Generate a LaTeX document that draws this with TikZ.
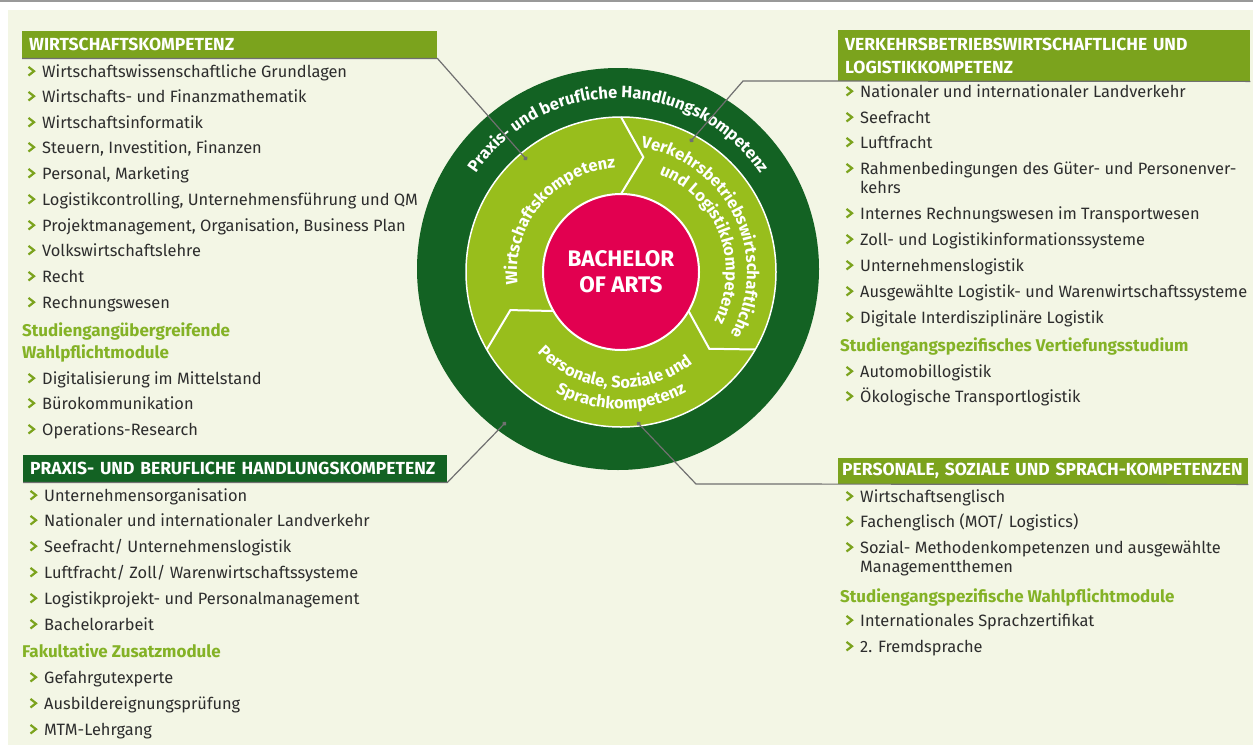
\documentclass[tikz,border=0pt]{standalone}
\usepackage{fontspec}
\setmainfont{Fira Sans}
\usetikzlibrary{positioning}
\usetikzlibrary{arrows.meta}
\usetikzlibrary{decorations.text}
\definecolor{creme}{RGB}{243,246,229}
\definecolor{olivebar}{RGB}{123,163,29}
\definecolor{darkgreen}{RGB}{19,98,35}
\definecolor{ringgreen}{RGB}{152,190,28}
\definecolor{bachred}{RGB}{226,0,80}
\definecolor{subgreen}{RGB}{132,178,38}
\definecolor{textgray}{RGB}{45,45,45}
\definecolor{linegray}{RGB}{112,112,112}
\newcommand{\ringfont}{\bfseries\fontsize{16.5}{19}\selectfont}
\newcommand{\twoline}[2]{\begin{tabular}[t]{@{}l@{}}#1\\#2\end{tabular}}
\tikzstyle{headbox}=[anchor=north west,text=white,font=\bfseries\fontsize{17.5}{23}\selectfont,align=left,inner xsep=7pt,inner ysep=0pt]
\tikzstyle{item}=[anchor=base west,text=textgray,font=\fontsize{16.4}{19.5}\selectfont,inner sep=0pt]
\tikzstyle{subhead}=[anchor=base west,text=subgreen,font=\bfseries\fontsize{17}{22}\selectfont,align=left,inner sep=0pt]
\tikzstyle{chev}=[draw=olivebar,line width=2.2pt]
\tikzstyle{link}=[draw=linegray,line width=1.2pt,-{Circle[length=4.5pt]}]
\tikzstyle{sep}=[draw=white,line width=2pt]
\tikzstyle{ringtext}=[decorate,decoration={text along path,text align=center,text color=white}]

\begin{document}
\begin{tikzpicture}[x=1pt,y=-1pt]
\useasboundingbox (0,0) rectangle (1253,745);
\fill[white] (0,0) rectangle (1253,745);
\fill[creme] (8,10) rectangle (1253,745);
\fill[black!40] (0,0) rectangle (1253,2);

% circle
\coordinate (co) at (618,269);
\coordinate (c) at (621,272);
\fill[darkgreen] (co) circle[radius=201];
\filldraw[fill=ringgreen,draw=white,line width=1.5pt] (c) circle[radius=155];
\foreach \a in {270,30,150}
    \draw[sep] ([shift={(\a:155)}]c) -- ([shift={(\a+11:117)}]c) -- ([shift={(\a:78)}]c);
\filldraw[fill=bachred,draw=white,line width=2pt] (c) circle[radius=78];
\node[text=white,align=center,font=\bfseries\fontsize{22.5}{26}\selectfont] (ba) at (c) {BACHELOR\\OF ARTS};

\path[ringtext,decoration={text={|\ringfont|Praxis- und berufliche Handlungskompetenz}}] (co) ++(180:171) arc[start angle=180,end angle=360,radius=171];
\path[ringtext,decoration={text={|\ringfont|Wirtschaftskompetenz}}] (c) ++(130:104) arc[start angle=130,end angle=310,radius=104];
\path[ringtext,decoration={text={|\ringfont|Verkehrsbetriebswirtschaftliche}}] (c) ++(250:126) arc[start angle=250,end angle=419,radius=126];
\path[ringtext,decoration={text={|\ringfont|und Logistikkompetenz}}] (c) ++(255:105) arc[start angle=255,end angle=424,radius=105];
\path[ringtext,decoration={text={|\ringfont|Personale, Soziale und}}] (c) ++(184:116) arc[start angle=184,end angle=4,radius=116];
\path[ringtext,decoration={text={|\ringfont|Sprachkompetenz}}] (c) ++(180:137) arc[start angle=180,end angle=0,radius=137];

% headers
\node[headbox,fill=olivebar,text width=401pt,minimum height=27pt] (wk) at (22,31) {WIRTSCHAFTSKOMPETENZ};
\node[headbox,fill=darkgreen,text width=410pt,minimum height=27pt] (px) at (23,455) {PRAXIS- UND BERUFLICHE HANDLUNGSKOMPETENZ};
\node[headbox,fill=olivebar,text width=398pt,minimum height=51pt] (vb) at (838,30) {VERKEHRSBETRIEBSWIRTSCHAFTLICHE UND\\LOGISTIKKOMPETENZ};
\node[headbox,fill=olivebar,inner xsep=4pt,text width=402pt,minimum height=26pt] (ps) at (838,458) {PERSONALE, SOZIALE UND SPRACH-KOMPETENZEN};

% lists
\foreach \y/\txt [count=\i] in {72/Wirtschaftswissenschaftliche Grundlagen, 97/Wirtschafts- und Finanzmathematik, 123/Wirtschaftsinformatik, 148/{Steuern, Investition, Finanzen}, 174/{Personal, Marketing}, 200/{Logistikcontrolling, Unternehmensführung und QM}, 226/{Projektmanagement, Organisation, Business Plan}, 251/Volkswirtschaftslehre, 277/Recht, 303/Rechnungswesen, 379/Digitalisierung im Mittelstand, 404/Bürokommunikation, 430/Operations-Research}
{
    \node[item] (wk\i) at (42,\y+5) {\txt};
    \draw[chev] (wk\i.base west) ++(-13.5,-1.5) -- ++(5.5,-4.3) -- ++(-5.5,-4.3);
}
\node[subhead] (wksub) at (22,358) {Studiengangübergreifende\\Wahlpflichtmodule};

\foreach \y/\txt [count=\i] in {496/Unternehmensorganisation, 521/Nationaler und internationaler Landverkehr, 547/{Seefracht/ Unternehmenslogistik}, 573/{Luftfracht/ Zoll/ Warenwirtschaftssysteme}, 599/Logistikprojekt- und Personalmanagement, 625/Bachelorarbeit, 678/Gefahrgutexperte, 704/Ausbildereignungsprüfung, 730/MTM-Lehrgang}
{
    \node[item] (px\i) at (44,\y+5) {\txt};
    \draw[chev] (px\i.base west) ++(-13.5,-1.5) -- ++(5.5,-4.3) -- ++(-5.5,-4.3);
}
\node[subhead] (pxsub) at (22,657) {Fakultative Zusatzmodule};

\foreach \y/\txt [count=\i] in {92/Nationaler und internationaler Landverkehr, 118/Seefracht, 143/Luftfracht, 169/{\twoline{Rahmenbedingungen des Güter- und Personenver-}{kehrs}}, 214/Internes Rechnungswesen im Transportwesen, 240/Zoll- und Logistikinformationssysteme, 266/Unternehmenslogistik, 292/Ausgewählte Logistik- und Warenwirtschaftssysteme, 318/Digitale Interdisziplinäre Logistik, 372/Automobillogistik, 397/Ökologische Transportlogistik}
{
    \node[item] (vb\i) at (860,\y+5) {\txt};
    \draw[chev] (vb\i.base west) ++(-13.5,-1.5) -- ++(5.5,-4.3) -- ++(-5.5,-4.3);
}
\node[subhead] (vbsub) at (840,351) {Studiengangspezifisches Vertiefungsstudium};

\foreach \y/\txt [count=\i] in {497/Wirtschaftsenglisch, 522/{Fachenglisch (MOT/ Logistics)}, 548/{\twoline{Sozial- Methodenkompetenzen und ausgewählte}{Managementthemen}}, 621/Internationales Sprachzertifikat, 647/2. Fremdsprache}
{
    \node[item] (ps\i) at (860,\y+5) {\txt};
    \draw[chev] (ps\i.base west) ++(-13.5,-1.5) -- ++(5.5,-4.3) -- ++(-5.5,-4.3);
}
\node[subhead] (pssub) at (840,602) {Studiengangspezifische Wahlpflichtmodule};

% connectors
\coordinate (wkdot) at (527,160);
\coordinate (pxdot) at (506,422);
\coordinate (vbknee) at (743,81);
\coordinate (vbdot) at (690,142);
\coordinate (psknee) at (696,484);
\coordinate (psdot) at (637,422);
\draw[link] (wk.south west) -- (wk.south east) -- (wkdot);
\draw[link] (px.south west) -- (px.south east) -- (pxdot);
\draw[link] (vb.south east) -- (vbknee) -- (vbdot);
\draw[link] (ps.south east) -- (psknee) -- (psdot);

\end{tikzpicture}
\end{document}
